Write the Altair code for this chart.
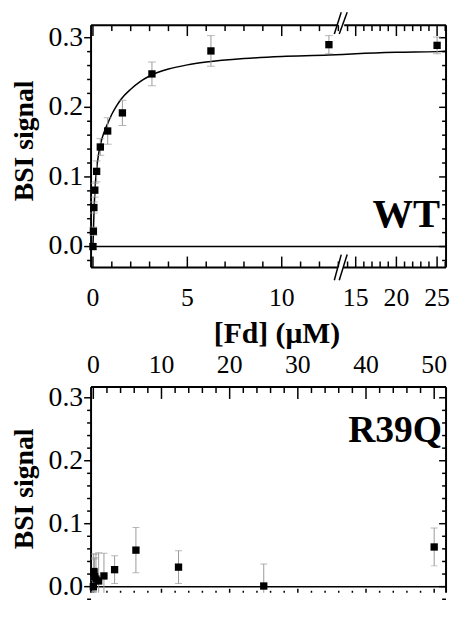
import altair as alt
import pandas as pd

# ---------------- data ----------------
wt_conc = [0, 0.024, 0.049, 0.098, 0.195, 0.39, 0.78, 1.56, 3.125, 6.25, 12.5, 25]
wt_sig = [0.0, 0.022, 0.056, 0.081, 0.108, 0.143, 0.166, 0.192, 0.248, 0.281, 0.290, 0.289]
wt_err = [0.004, 0.006, 0.008, 0.010, 0.015, 0.012, 0.019, 0.018, 0.017, 0.022, 0.013, 0.012]

fit_conc = [0, 0.025, 0.05, 0.1, 0.2, 0.3, 0.4, 0.6, 0.8, 1.0, 1.25, 1.5, 2.0, 2.5,
            3.0, 4.0, 5.0, 6.0, 8.0, 10.0, 12.5, 15, 20, 25, 26.1]
fit_sig = [0, 0.022, 0.045, 0.078, 0.112, 0.133, 0.147, 0.165, 0.178, 0.190, 0.202,
           0.212, 0.226, 0.237, 0.245, 0.255, 0.261, 0.265, 0.270, 0.273, 0.275, 0.277,
           0.279, 0.280, 0.2805]

r_conc = [0, 0.049, 0.098, 0.195, 0.39, 0.78, 1.56, 3.125, 6.25, 12.5, 25, 50]
r_sig = [0.0, 0.022, 0.024, 0.016, 0.012, 0.009, 0.017, 0.027, 0.058, 0.031, 0.001, 0.063]
r_err = [0.010, 0.030, 0.020, 0.030, 0.040, 0.045, 0.036, 0.022, 0.036, 0.026, 0.035, 0.030]

top_major = [0, 5, 10, 15, 20, 25]
top_major_text = ["0", "5", "10", "15", "20", "25"]
top_minor = [1, 2, 3, 4, 6, 7, 8, 9, 11, 12, 13, 14, 16, 17, 18, 19, 21, 22, 23, 24, 26]
bot_major = [0, 10, 20, 30, 40, 50]
bot_major_text = ["0", "10", "20", "30", "40", "50"]
bot_minor = [2, 4, 6, 8, 12, 14, 16, 18, 22, 24, 26, 28, 32, 34, 36, 38, 42, 44, 46, 48]
y_major = [0.0, 0.1, 0.2, 0.3]
y_major_text = ["0.0", "0.1", "0.2", "0.3"]
y_minor = [-0.02, 0.02, 0.04, 0.06, 0.08, 0.12, 0.14, 0.16, 0.18, 0.22, 0.24, 0.26, 0.28]

x_break = 13.1
y_title = ["BSI signal"]
x_title = ["[Fd] (\u03bcM)"]
labels_top = ["WT"]
labels_bot = ["R39Q"]

FONT = "Liberation Serif"
GRAY = "#9a9a9a"

TOP_X = [-0.1, 26.1]
BOT_X = [-0.33, 51.74]
TOP_Y = [-0.03, 0.318]
BOT_Y = [-0.0097, 0.317]

xs_top = alt.Scale(domain=[TOP_X[0], x_break, TOP_X[1]], range=[0, 252, 359], nice=False, zero=False)
xs_bot = alt.Scale(domain=BOT_X, nice=False, zero=False)
ys_top = alt.Scale(domain=TOP_Y, nice=False, zero=False)
ys_bot = alt.Scale(domain=BOT_Y, nice=False, zero=False)

W = 359
H_TOP = 245
H_BOT = 208


def xticks(values, xs, ys, yd, size, from_top):
    off = size if from_top else -size
    return alt.Chart(pd.DataFrame({"v": values})).mark_rule(
        color="black", strokeWidth=1.5, y2Offset=off).encode(
        x=alt.X("v:Q", scale=xs, axis=None),
        y=alt.YDatum(yd, scale=ys, axis=None), y2=alt.Y2Datum(yd))


def yticks(values, xs, ys, xd, size):
    # ticks point left: outward on the left edge, inward on the right edge
    return alt.Chart(pd.DataFrame({"v": values})).mark_rule(
        color="black", strokeWidth=1.5, x2Offset=-size).encode(
        y=alt.Y("v:Q", scale=ys, axis=None),
        x=alt.XDatum(xd, scale=xs, axis=None), x2=alt.X2Datum(xd))


def xlabels(values, texts, xs, ys, yd, dy):
    return alt.Chart(pd.DataFrame({"v": values, "t": texts})).mark_text(
        font=FONT, fontSize=26, align="center", baseline="alphabetic", dy=dy,
        color="black").encode(
        x=alt.X("v:Q", scale=xs, axis=None),
        y=alt.YDatum(yd, scale=ys, axis=None), text="t:N")


def ylabels(xs, ys, xd):
    return alt.Chart(pd.DataFrame({"v": y_major, "t": y_major_text})).mark_text(
        font=FONT, fontSize=28, align="right", baseline="middle", dx=-8,
        color="black").encode(
        y=alt.Y("v:Q", scale=ys, axis=None),
        x=alt.XDatum(xd, scale=xs, axis=None), text="t:N")


def ytitle(ypix):
    return alt.Chart(pd.DataFrame({"t": y_title})).mark_text(
        font=FONT, fontSize=28, fontWeight="bold", angle=270, align="center",
        baseline="middle", color="black").encode(
        x=alt.value(-67), y=alt.value(ypix), text="t:N")


def hline(xs, ys, x0, x1, yd, o0=0, o1=0):
    return alt.Chart(pd.DataFrame({"a": [x0], "b": [x1]})).mark_rule(
        color="black", strokeWidth=2, xOffset=o0, x2Offset=o1).encode(
        x=alt.X("a:Q", scale=xs, axis=None), x2="b:Q",
        y=alt.YDatum(yd, scale=ys, axis=None), y2=alt.Y2Datum(yd))


def vline(xs, ys, xd, y0, y1):
    return alt.Chart(pd.DataFrame({"a": [y0], "b": [y1]})).mark_rule(
        color="black", strokeWidth=2).encode(
        y=alt.Y("a:Q", scale=ys, axis=None), y2="b:Q",
        x=alt.XDatum(xd, scale=xs, axis=None), x2=alt.X2Datum(xd))


def data_layers(df, xs, ys, cap, clip):
    rule = alt.Chart(df).mark_rule(color=GRAY, strokeWidth=1, clip=clip).encode(
        x=alt.X("x:Q", scale=xs, axis=None),
        y=alt.Y("lo:Q", scale=ys, axis=None), y2="hi:Q")
    cap_hi = alt.Chart(df).mark_tick(color=GRAY, orient="horizontal", size=cap, thickness=1, clip=clip).encode(
        x=alt.X("x:Q", scale=xs, axis=None),
        y=alt.Y("hi:Q", scale=ys, axis=None))
    cap_lo = alt.Chart(df).mark_tick(color=GRAY, orient="horizontal", size=cap, thickness=1, clip=clip).encode(
        x=alt.X("x:Q", scale=xs, axis=None),
        y=alt.Y("lo:Q", scale=ys, axis=None))
    pts = alt.Chart(df).mark_square(color="black", size=55, opacity=1).encode(
        x=alt.X("x:Q", scale=xs, axis=None),
        y=alt.Y("y:Q", scale=ys, axis=None))
    return [rule, cap_hi, cap_lo, pts]


def zero_rule(ys):
    return alt.Chart(pd.DataFrame({"z": [0.0]})).mark_rule(color="black", strokeWidth=1.5).encode(
        y=alt.Y("z:Q", scale=ys, axis=None))


# ---------------- top panel (WT) ----------------
wt = pd.DataFrame({"x": wt_conc, "y": wt_sig,
                   "lo": [a - b for a, b in zip(wt_sig, wt_err)],
                   "hi": [a + b for a, b in zip(wt_sig, wt_err)]})
fit = pd.DataFrame({"x": fit_conc, "y": fit_sig})

curve = alt.Chart(fit).mark_line(color="black", strokeWidth=1.5, interpolate="monotone").encode(
    x=alt.X("x:Q", scale=xs_top, axis=None),
    y=alt.Y("y:Q", scale=ys_top, axis=None))

brk = pd.DataFrame({"x": [x_break]})


def slashes(yd, up, down):
    out = []
    for a, b in [(-6, 1), (-1, 7)]:
        out.append(alt.Chart(brk).mark_rule(color="black", strokeWidth=1.5, xOffset=a, x2Offset=b,
                                            yOffset=down, y2Offset=-up).encode(
            x=alt.X("x:Q", scale=xs_top, axis=None), x2="x:Q",
            y=alt.YDatum(yd, scale=ys_top, axis=None), y2=alt.Y2Datum(yd)))
    return out


wt_label = alt.Chart(pd.DataFrame({"x": [TOP_X[1]], "y": [0.028], "t": labels_top})).mark_text(
    font=FONT, fontWeight="bold", fontSize=41, align="right", baseline="alphabetic", dx=-6,
    color="black").encode(
    x=alt.X("x:Q", scale=xs_top, axis=None), y=alt.Y("y:Q", scale=ys_top, axis=None), text="t:N")

xtitle = alt.Chart(pd.DataFrame({"t": x_title})).mark_text(
    font=FONT, fontSize=30, fontWeight="bold", align="center", baseline="alphabetic",
    color="black").encode(x=alt.value(188), y=alt.value(321), text="t:N")

top = alt.layer(
    hline(xs_top, ys_top, TOP_X[0], x_break, TOP_Y[1], 0, -2),
    hline(xs_top, ys_top, x_break, TOP_X[1], TOP_Y[1], 4, 0),
    hline(xs_top, ys_top, TOP_X[0], x_break, TOP_Y[0], 0, -3),
    hline(xs_top, ys_top, x_break, TOP_X[1], TOP_Y[0], 3, 0),
    vline(xs_top, ys_top, TOP_X[0], TOP_Y[0], TOP_Y[1]),
    vline(xs_top, ys_top, TOP_X[1], TOP_Y[0], TOP_Y[1]),
    xticks(top_major, xs_top, ys_top, TOP_Y[0], 11, False),
    xticks(top_minor, xs_top, ys_top, TOP_Y[0], 6, False),
    xticks(top_major, xs_top, ys_top, TOP_Y[1], 11, True),
    xticks(top_minor, xs_top, ys_top, TOP_Y[1], 6, True),
    yticks(y_major, xs_top, ys_top, TOP_X[0], 7),
    yticks(y_minor, xs_top, ys_top, TOP_X[0], 4),
    yticks(y_major, xs_top, ys_top, TOP_X[1], 7),
    yticks(y_minor, xs_top, ys_top, TOP_X[1], 4),
    zero_rule(ys_top),
    curve,
    *data_layers(wt, xs_top, ys_top, 8, False),
    *slashes(TOP_Y[1], 13, 9),
    *slashes(TOP_Y[0], 13, 13),
    wt_label,
    xlabels(top_major, top_major_text, xs_top, ys_top, TOP_Y[0], 39),
    ylabels(xs_top, ys_top, TOP_X[0]),
    ytitle(117),
    xtitle,
).properties(width=W, height=H_TOP)

# ---------------- bottom panel (R39Q) ----------------
r39 = pd.DataFrame({"x": r_conc, "y": r_sig,
                    "lo": [a - b for a, b in zip(r_sig, r_err)],
                    "hi": [a + b for a, b in zip(r_sig, r_err)]})

r_label = alt.Chart(pd.DataFrame({"x": [BOT_X[1]], "y": [0.23], "t": labels_bot})).mark_text(
    font=FONT, fontWeight="bold", fontSize=38, align="right", baseline="alphabetic", dx=-4,
    color="black").encode(
    x=alt.X("x:Q", scale=xs_bot, axis=None), y=alt.Y("y:Q", scale=ys_bot, axis=None), text="t:N")

bottom = alt.layer(
    hline(xs_bot, ys_bot, BOT_X[0], BOT_X[1], BOT_Y[1]),
    vline(xs_bot, ys_bot, BOT_X[0], BOT_Y[0], BOT_Y[1]),
    vline(xs_bot, ys_bot, BOT_X[1], BOT_Y[0], BOT_Y[1]),
    xticks(bot_major, xs_bot, ys_bot, BOT_Y[1], 12, True),
    xticks(bot_minor, xs_bot, ys_bot, BOT_Y[1], 6, True),
    xticks(bot_major, xs_bot, ys_bot, BOT_Y[0], 4, False),
    xticks(bot_minor, xs_bot, ys_bot, BOT_Y[0], 2, False),
    yticks(y_major, xs_bot, ys_bot, BOT_X[0], 7),
    yticks(y_minor, xs_bot, ys_bot, BOT_X[0], 4),
    yticks(y_major, xs_bot, ys_bot, BOT_X[1], 7),
    yticks(y_minor, xs_bot, ys_bot, BOT_X[1], 4),
    zero_rule(ys_bot),
    *data_layers(r39, xs_bot, ys_bot, 7, True),
    r_label,
    xlabels(bot_major, bot_major_text, xs_bot, ys_bot, BOT_Y[1], -14),
    ylabels(xs_bot, ys_bot, BOT_X[0]),
    ytitle(103),
).properties(width=W, height=H_BOT)

chart = alt.vconcat(top, bottom, spacing=4).properties(
    padding={"left": 3, "top": 0, "right": 0, "bottom": 0}
).configure_view(stroke=None).configure_text(font=FONT)

chart.save("out.html", embed_options={"renderer": "svg", "actions": False})
